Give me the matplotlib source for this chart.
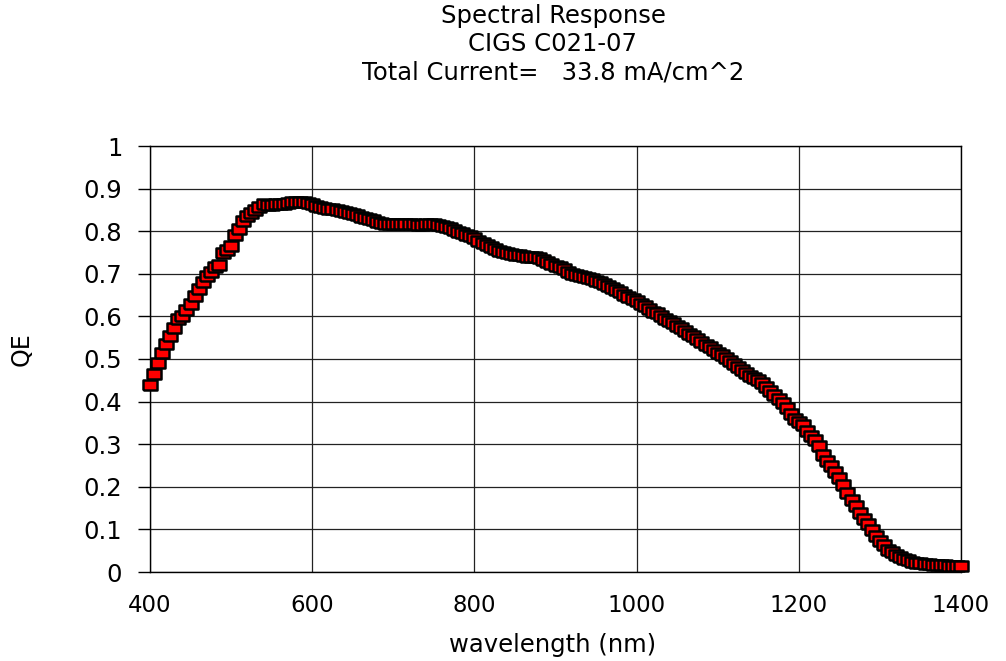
import numpy as np
import matplotlib
matplotlib.use("Agg")
from matplotlib import pyplot as plt

# the reference text is Arial stretched sideways, DejaVu is the closer width
plt.rcParams['font.family'] = ['DejaVu Sans']

# spectral response, 5 nm steps
wavelength = list(range(400, 1405, 5))
qe = [
    0.440, 0.465, 0.490, 0.515, 0.535, 0.555, 0.572, 0.595, 0.600, 0.615,  # 400
    0.628, 0.648, 0.665, 0.680, 0.695, 0.705, 0.716, 0.720, 0.750, 0.755,  # 450
    0.765, 0.790, 0.805, 0.825, 0.835, 0.843, 0.850, 0.857, 0.864, 0.862,  # 500
    0.862, 0.864, 0.863, 0.865, 0.866, 0.868, 0.869, 0.869, 0.869, 0.867,  # 550
    0.864, 0.860, 0.856, 0.854, 0.852, 0.851, 0.849, 0.847, 0.845, 0.843,  # 600
    0.840, 0.837, 0.834, 0.832, 0.829, 0.826, 0.822, 0.819, 0.818, 0.818,  # 650
    0.818, 0.818, 0.817, 0.817, 0.816, 0.816, 0.815, 0.815, 0.816, 0.816,  # 700
    0.816, 0.814, 0.812, 0.810, 0.807, 0.803, 0.799, 0.796, 0.792, 0.788,  # 750
    0.784, 0.778, 0.773, 0.768, 0.763, 0.758, 0.754, 0.751, 0.749, 0.747,  # 800
    0.745, 0.743, 0.741, 0.739, 0.740, 0.740, 0.737, 0.733, 0.728, 0.723,  # 850
    0.719, 0.715, 0.711, 0.704, 0.699, 0.697, 0.695, 0.692, 0.690, 0.688,  # 900
    0.684, 0.680, 0.676, 0.671, 0.666, 0.662, 0.657, 0.651, 0.646, 0.641,  # 950
    0.636, 0.630, 0.624, 0.617, 0.611, 0.608, 0.602, 0.595, 0.590, 0.585,  # 1000
    0.578, 0.572, 0.566, 0.559, 0.553, 0.547, 0.540, 0.534, 0.527, 0.521,  # 1050
    0.515, 0.509, 0.502, 0.495, 0.489, 0.482, 0.475, 0.466, 0.461, 0.455,  # 1100
    0.450, 0.444, 0.434, 0.424, 0.415, 0.406, 0.397, 0.385, 0.371, 0.360,  # 1150
    0.352, 0.345, 0.330, 0.320, 0.310, 0.295, 0.275, 0.260, 0.250, 0.235,  # 1200
    0.220, 0.205, 0.185, 0.170, 0.155, 0.138, 0.125, 0.113, 0.098, 0.084,  # 1250
    0.072, 0.063, 0.052, 0.046, 0.040, 0.035, 0.030, 0.027, 0.024, 0.022,  # 1300
    0.021, 0.019, 0.018, 0.017, 0.016, 0.016, 0.016, 0.015, 0.015, 0.015,  # 1350
    0.015,                                                                  # 1400
]

x_ticks = [400, 600, 800, 1000, 1200, 1400]
x_labels = ["400", "600", "800", "1000", "1200", "1400"]
y_ticks = [0, 0.1, 0.2, 0.3, 0.4, 0.5, 0.6, 0.7, 0.8, 0.9, 1]
y_labels = ["0", "0.1", "0.2", "0.3", "0.4", "0.5", "0.6", "0.7", "0.8", "0.9", "1"]

title_lines = ["Spectral Response", "CIGS C021-07", "Total Current=   33.8 mA/cm^2"]

W, H = 1006, 661
fig = plt.figure(figsize=(W / 100, H / 100), dpi=100)
ax = fig.add_axes([150 / W, 1 - 572 / H, (961 - 150) / W, (572 - 146) / H])

# wide, flat square markers like the Excel ones
box = [(-1.45, -1), (1.45, -1), (1.45, 1), (-1.45, 1), (-1.45, -1)]
ax.plot(wavelength, qe, linestyle="none", marker=box, ms=10.5,
        mfc="#ff0000", mec="black", mew=1.8, clip_on=False, zorder=3)

ax.set_xlim(400, 1400)
ax.set_ylim(0, 1)
ax.set_xticks(x_ticks)
ax.set_xticklabels(x_labels, fontsize=16.5)
ax.set_yticks(y_ticks)
ax.set_yticklabels(y_labels, fontsize=17.5)
ax.tick_params(axis="x", length=0, pad=16)
ax.tick_params(axis="y", length=9, width=1, pad=11, direction="out")
ax.grid(True, color="#222222", linewidth=0.9)
ax.set_axisbelow(True)
for s in ax.spines.values():
    s.set_linewidth(1)
    s.set_color("black")

fig.text(22 / W, 1 - 349 / H, "QE", rotation=90, ha="center", va="center", fontsize=17)
fig.text(553 / W, 1 - 645 / H, "wavelength (nm)", ha="center", va="center", fontsize=17.5)

for i, line in enumerate(title_lines):
    fig.text(553 / W, 1 - (16 + 28 * i) / H, line, ha="center", va="center", fontsize=17.5)

fig.savefig("out.png", dpi=100)
